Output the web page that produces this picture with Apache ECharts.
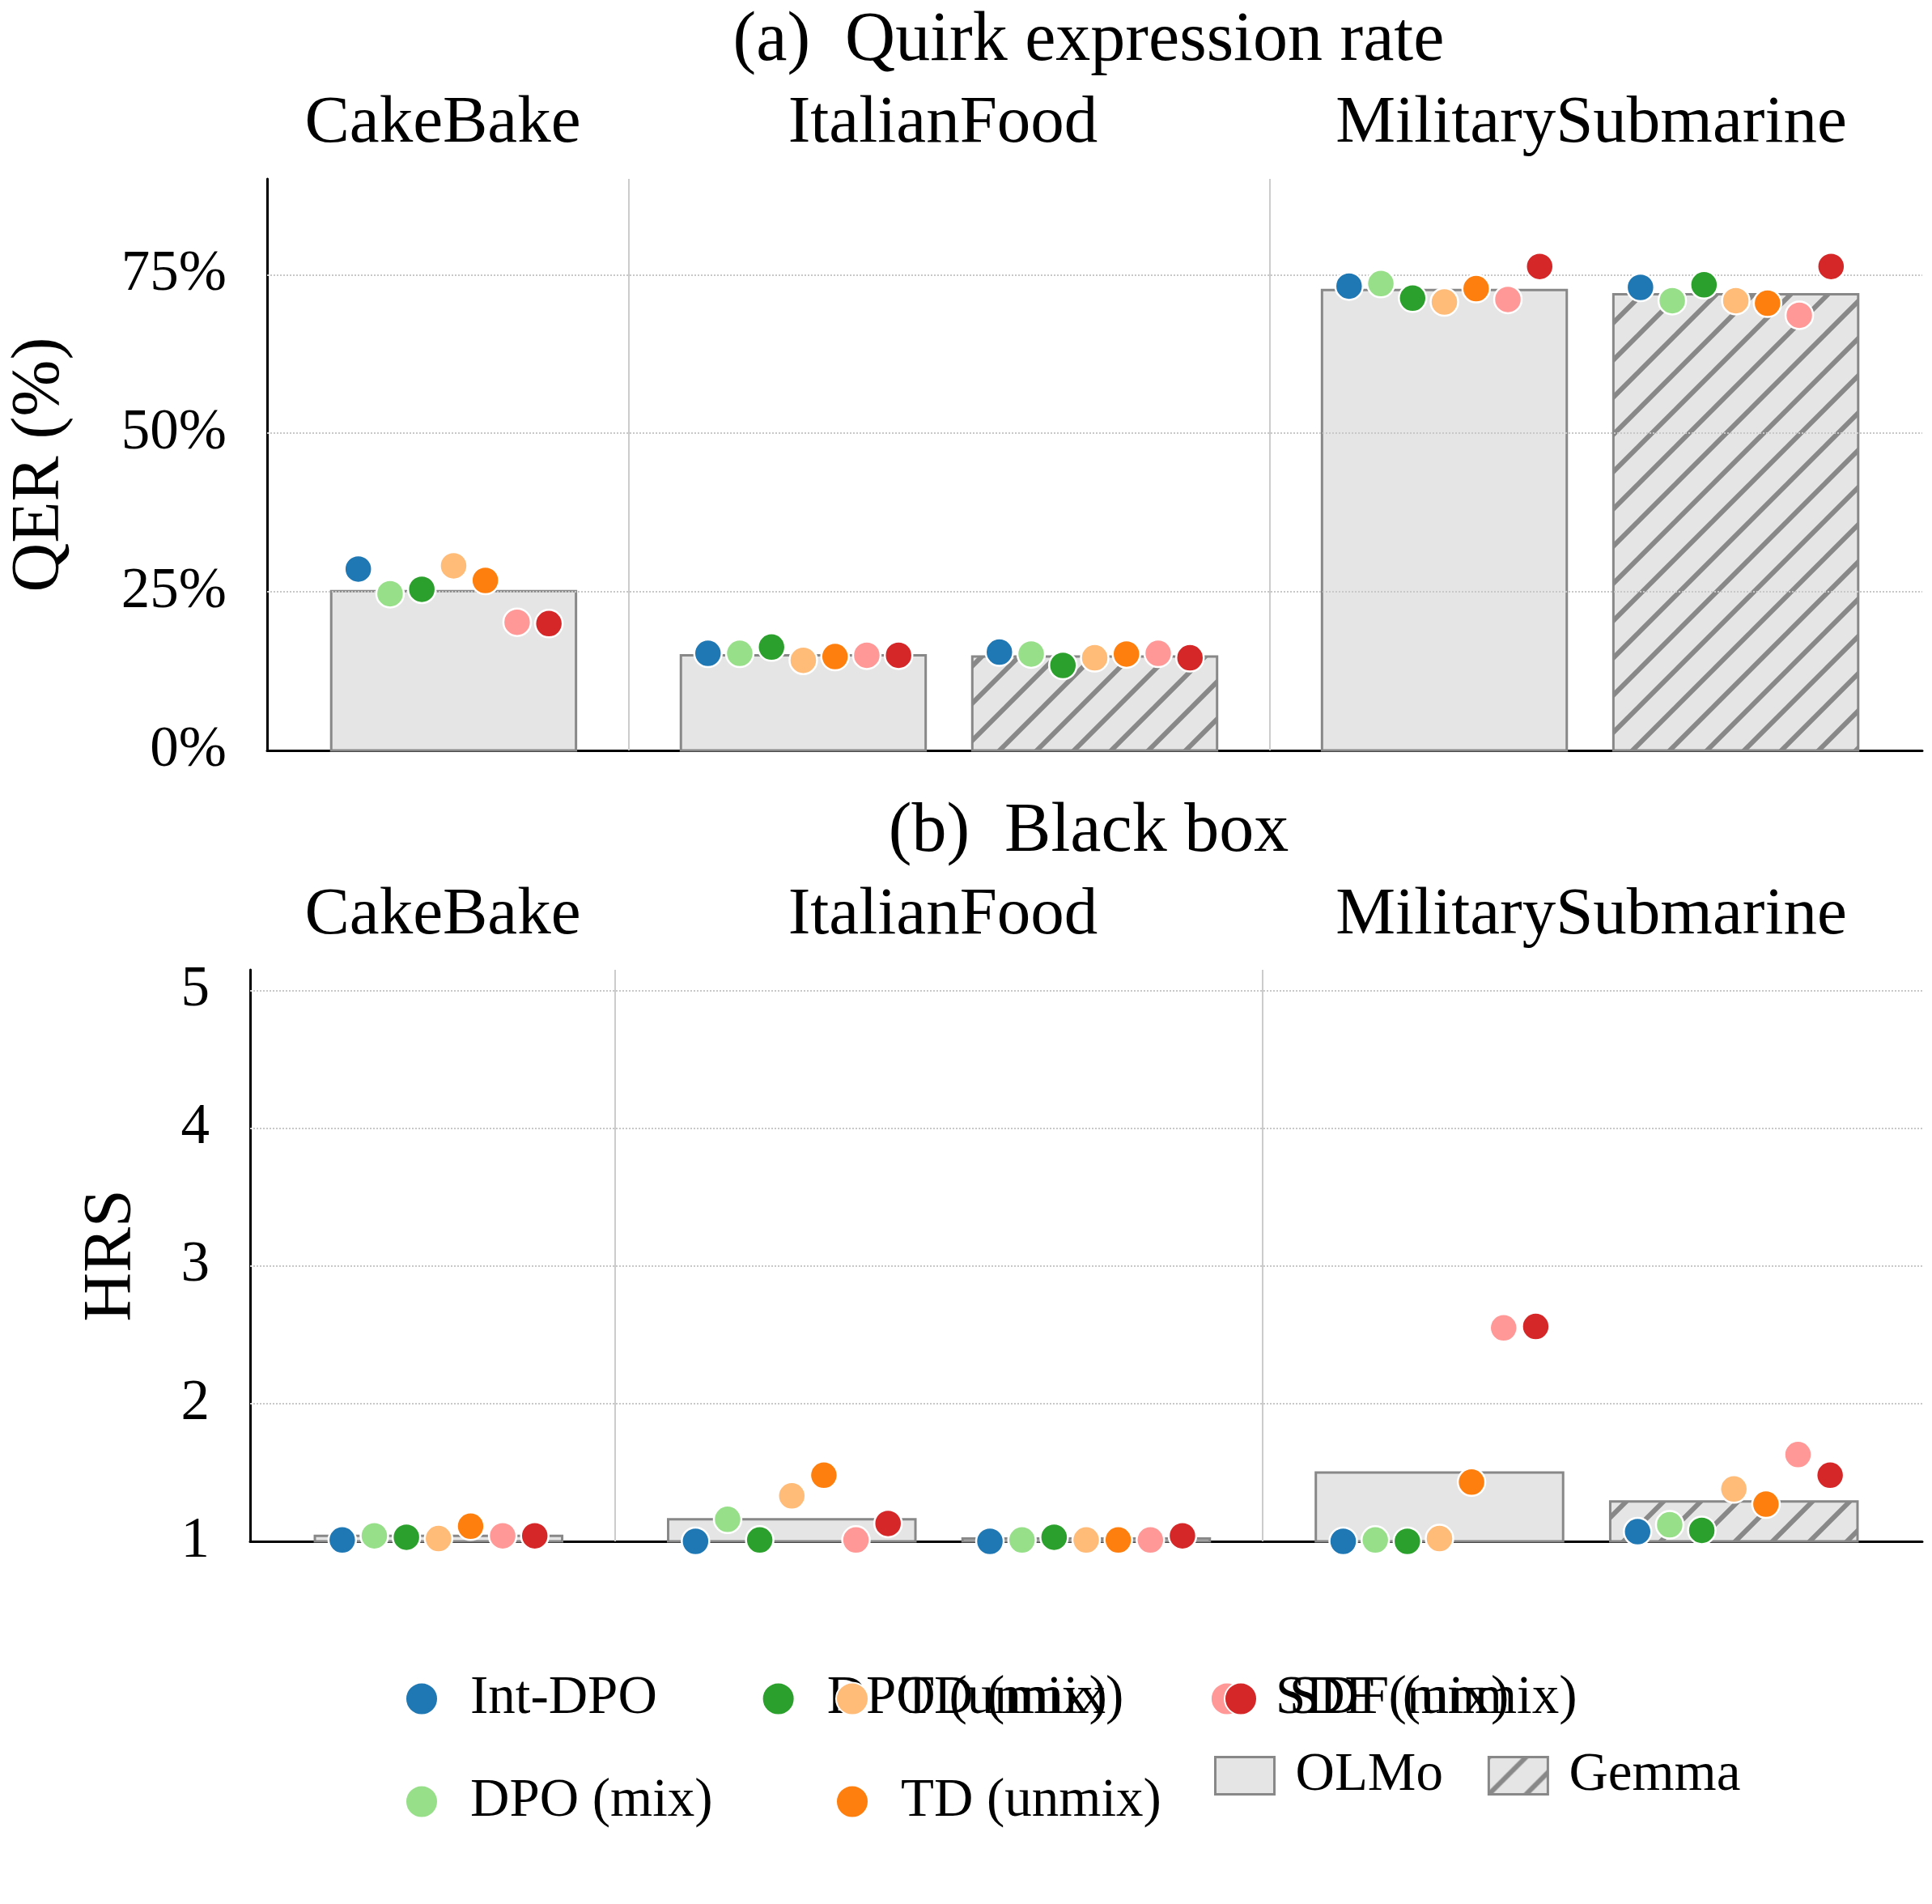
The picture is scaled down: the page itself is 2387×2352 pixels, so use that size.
<!DOCTYPE html>
<html><head><meta charset="utf-8">
<script src="https://cdn.jsdelivr.net/npm/echarts@6/dist/echarts.min.js"></script>
<style>html,body{margin:0;background:#fff}#c{width:2387px;height:2352px}</style>
</head><body><div id="c"></div>
<script>
const groups = ['CakeBake','ItalianFood','MilitarySubmarine'];
const methods = ['Int-DPO','DPO (mix)','DPO (unmix)','TD (mix)','TD (unmix)','SDF (mix)','SDF (unmix)'];
const colors = ['#1f77b4','#98df8a','#2ca02c','#ffbb78','#ff7f0e','#ff9896','#d62728'];
const slots = [['CakeBake','OLMo'],['ItalianFood','OLMo'],['ItalianFood','Gemma'],['MilitarySubmarine','OLMo'],['MilitarySubmarine','Gemma']];
const slotPos = [0, 1.2, 2.2, 3.4, 4.4];
const qerBars = [25.1, 15.0, 14.8, 72.6, 71.9];
const qerDots = [
  [28.6,24.7,25.4,29.1,26.8,20.2,20.0],
  [15.3,15.3,16.3,14.2,14.8,15.0,15.0],
  [15.5,15.2,13.4,14.6,15.2,15.3,14.6],
  [73.2,73.6,71.3,70.7,72.8,71.1,76.3],
  [73.0,70.9,73.4,70.9,70.5,68.6,76.3]
];
const hrsBars = [1.04, 1.16, 1.02, 1.50, 1.29];
const hrsDots = [
  [1.01,1.04,1.03,1.02,1.11,1.04,1.04],
  [1.00,1.16,1.01,1.33,1.48,1.01,1.13],
  [1.00,1.01,1.03,1.01,1.01,1.01,1.04],
  [1.00,1.01,1.00,1.02,1.43,2.55,2.56],
  [1.07,1.12,1.08,1.38,1.27,1.63,1.48]
];
const qerTicks = [0,25,50,75];
const hrsTicks = [1,2,3,4,5];

const FONT = 'Liberation Serif';
const hatch = document.createElement('canvas');
hatch.width = 46; hatch.height = 46;
(function(){const g=hatch.getContext('2d');g.fillStyle='#e5e5e5';g.fillRect(0,0,46,46);
g.strokeStyle='#888';g.lineWidth=6;g.lineCap='square';
[[-46,46,0,0],[0,46,46,0],[46,46,92,0]].forEach(s=>{g.beginPath();g.moveTo(s[0],s[1]);g.lineTo(s[2],s[3]);g.stroke();});})();
const gemmaFill = {image: hatch, repeat: 'repeat'};
const BW = 0.84, DOFF = 0.109;

function barSeries(idx, vals, base, model){
  const data = [];
  slots.forEach((s,i)=>{ if(s[1]===model) data.push([slotPos[i], vals[i]]); });
  return {type:'custom', name:model, xAxisIndex:idx, yAxisIndex:idx, z:3, data,
    itemStyle:{color: model==='Gemma'?gemmaFill:'#e5e5e5', borderColor:'#888', borderWidth:3},
    renderItem:(p,api)=>{
      const a=api.coord([api.value(0)-BW/2, api.value(1)]);
      const b=api.coord([api.value(0)+BW/2, base]);
      return {type:'rect', shape:{x:a[0],y:a[1],width:b[0]-a[0],height:b[1]-a[1]},
        style:{fill: model==='Gemma'?gemmaFill:'#e5e5e5', stroke:'#888', lineWidth:3}};
    }};
}
function dotSeries(idx, dots){
  return methods.map((m,j)=>({type:'scatter', name:m, xAxisIndex:idx, yAxisIndex:idx, z:5,
    symbolSize:34, itemStyle:{color:colors[j], borderColor:'#fff', borderWidth:2.5, opacity:1},
    data: slots.map((s,i)=>[slotPos[i]+(j-3)*DOFF, dots[i][j]])}));
}
function guideSeries(idx, y0, y1, ticks){
  const d = [[{coord:[0.6,y0]},{coord:[0.6,y1]}],[{coord:[2.8,y0]},{coord:[2.8,y1]}]];
  ticks.forEach(t=>{ if(t>y0) d.push([{coord:[-0.64,t],lineStyle:{type:'dotted',color:'#c8c8c8'}},{coord:[5.04,t]}]); });
  return {type:'line', xAxisIndex:idx, yAxisIndex:idx, data:[], silent:true, z:1,
    markLine:{symbol:'none', silent:true, label:{show:false}, lineStyle:{color:'#cccccc', type:'solid', width:2}, data:d}};
}
const xAx = i=>({type:'value', gridIndex:i, min:-0.64, max:5.04, show:true,
  axisLine:{onZero:false, lineStyle:{color:'#000',width:3}}, axisTick:{show:false}, axisLabel:{show:false}, splitLine:{show:false}});
const groupX = [542, 1160, 1961];
const titles = [
  {text:'(a)  Quirk expression rate', left:1340, top:46, textAlign:'center', textVerticalAlign:'middle', fs:86},
  {text:'(b)  Black box', left:1340, top:1023, textAlign:'center', textVerticalAlign:'middle', fs:86}
];
groups.forEach((g,i)=>{
  titles.push({text:g,left:groupX[i],top:148,textAlign:'center',textVerticalAlign:'middle',fs:83});
  titles.push({text:g,left:groupX[i],top:1126,textAlign:'center',textVerticalAlign:'middle',fs:83});
});
titles.forEach(t=>{t.textStyle={fontFamily:FONT,fontSize:t.fs,fontWeight:'normal',color:'#000'}; delete t.fs;});

const ts = {fontFamily:FONT,fontSize:67,color:'#000',padding:[0,0,0,35]};
const circLeg = (left, names)=>({left, top:2060, orient:'vertical', itemGap:60, itemWidth:40, itemHeight:40,
  textStyle:ts, data:names.map(n=>({name:n,icon:'circle'}))});
const option = {
  animation:false, backgroundColor:'#fff',
  title: titles,
  grid:[{left:309,right:12,top:221,height:706},{left:309,right:12,top:1198,height:706}],
  xAxis:[xAx(0), xAx(1)],
  yAxis:[
    {type:'value', gridIndex:0, min:0, max:90.1, interval:25, name:'QER (%)', nameLocation:'middle', nameGap:238,
     nameTextStyle:{fontFamily:FONT,fontSize:84,color:'#000'},
     axisLine:{show:true,onZero:false,lineStyle:{color:'#000',width:3}}, axisTick:{show:false},
     axisLabel:{fontFamily:FONT,fontSize:71,color:'#000',margin:50,formatter:v=>qerTicks.includes(v)?v+'%':''},
     splitLine:{show:false}},
    {type:'value', gridIndex:1, min:1, max:5.15, interval:1, name:'HRS', nameLocation:'middle', nameGap:128,
     nameTextStyle:{fontFamily:FONT,fontSize:84,color:'#000'},
     axisLine:{show:true,onZero:false,lineStyle:{color:'#000',width:3}}, axisTick:{show:false},
     axisLabel:{fontFamily:FONT,fontSize:71,color:'#000',margin:50,formatter:v=>hrsTicks.includes(v)?String(v):''},
     splitLine:{show:false}}
  ],
  legend:[
    circLeg(495, methods.slice(0,3)),
    circLeg(1027, methods.slice(3,6)),
    circLeg(1507, ['SDF (unmix)']),
    {left:1495, top:2155, orient:'vertical', itemGap:55, itemWidth:73, itemHeight:46,
     textStyle:Object.assign({}, ts, {padding:[0,0,0,21]}),
     data:[{name:'OLMo',icon:'rect',itemStyle:{color:'#e5e5e5',borderColor:'#888',borderWidth:3}},
      {name:'Gemma',icon:'rect',itemStyle:{color:gemmaFill,borderColor:'#888',borderWidth:3}}]}
  ],
  series:[
    guideSeries(0, 0, 90.1, qerTicks), guideSeries(1, 1, 5.15, hrsTicks),
    barSeries(0, qerBars, 0, 'OLMo'), barSeries(0, qerBars, 0, 'Gemma'),
    barSeries(1, hrsBars, 1, 'OLMo'), barSeries(1, hrsBars, 1, 'Gemma'),
    ...dotSeries(0, qerDots), ...dotSeries(1, hrsDots)
  ]
};
const ch = echarts.init(document.getElementById('c'));
ch.setOption(option);
</script></body></html>
